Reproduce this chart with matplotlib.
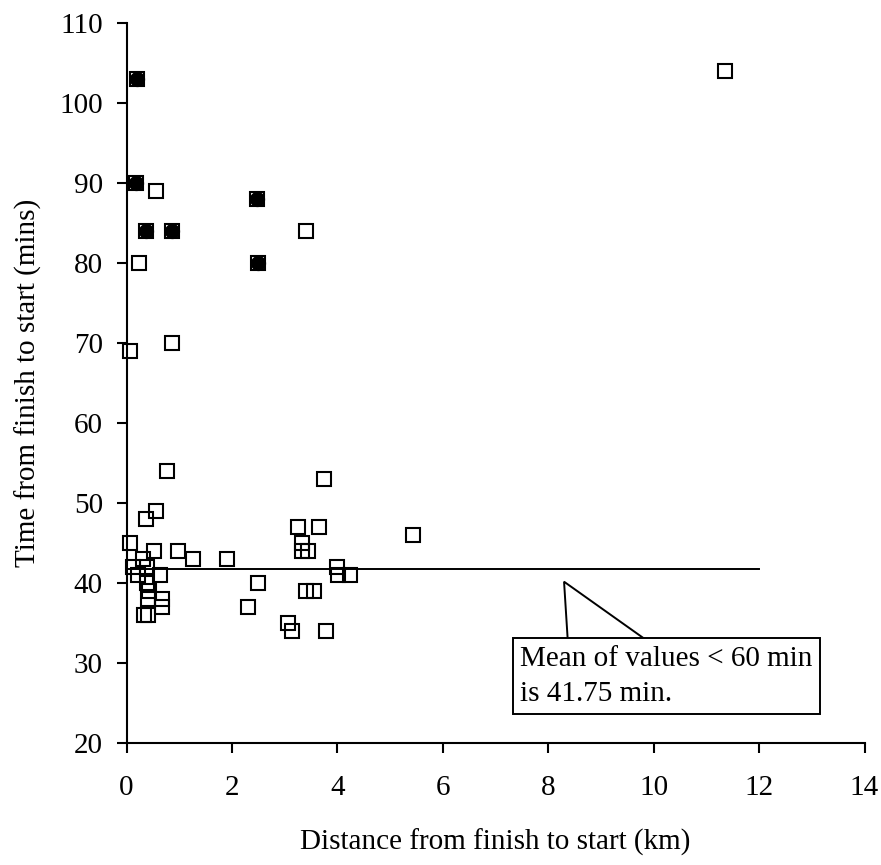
import matplotlib

matplotlib.use("Agg")
import matplotlib.pyplot as plt
from matplotlib.patches import Polygon

# distance (km) and time (min) from finish back to start, one entry per trip
dist_km = [0.19, 0.18, 0.55, 2.47, 0.37, 0.86, 3.40, 0.23, 2.49, 0.86,
           0.07, 0.76, 3.74, 0.55, 0.37, 3.25, 3.66, 5.44, 0.06, 3.33,
           0.53, 0.98, 3.33, 3.45, 1.27, 1.90, 0.32, 0.13, 0.38, 3.99,
           0.21, 0.64, 4.02, 4.24, 0.38, 2.49, 0.42, 3.40, 3.55, 0.40,
           0.67, 0.67, 2.30, 0.34, 0.40, 3.06, 3.13, 3.78, 11.35]
time_min = [103, 90, 89, 88, 84, 84, 84, 80, 80, 70,
            69, 54, 53, 49, 48, 47, 47, 46, 45, 45,
            44, 44, 44, 44, 43, 43, 43, 42, 42, 42,
            41, 41, 41, 41, 40, 40, 39, 39, 39, 38,
            38, 37, 37, 36, 36, 35, 34, 34, 104]

# trips drawn with a solid marker
solid_km = [0.19, 0.18, 2.47, 0.37, 0.86, 2.49]
solid_min = [103, 90, 88, 84, 84, 80]

mean_min = 41.75
mean_span_km = [0, 12]

x_ticks = list(range(0, 15, 2))
y_ticks = list(range(20, 111, 10))

plt.rcParams["font.family"] = ["Liberation Serif", "DejaVu Serif"]

fig = plt.figure(figsize=(8.81, 8.65), dpi=100)
ax = fig.add_axes([0.1436, 0.1407, 0.8377, 0.8324])

ax.plot(mean_span_km, [mean_min, mean_min], color="black", lw=1.4)
ax.plot(dist_km, time_min, ls="none", marker="s", ms=10.5, mfc="none",
        mec="black", mew=1.5, clip_on=False)
ax.plot(solid_km, solid_min, ls="none", marker="o", ms=11, mfc="black",
        mec="black", mew=0, clip_on=False)

# callout: pointer wedge under a boxed note
pointer = Polygon([(8.3, 40.2), (8.37, 32.9), (9.86, 32.9)], closed=True,
                  fc="white", ec="black", lw=1.4, zorder=4)
ax.add_patch(pointer)
ax.text(7.47, 32.2, "Mean of values < 60 min\nis 41.75 min.", ha="left", va="top",
        fontsize=21, linespacing=1.45, zorder=5,
        bbox=dict(boxstyle="square,pad=0.25", fc="white", ec="black", lw=1.4))

ax.set_xlim(0, 14)
ax.set_ylim(20, 110)
ax.set_xticks(x_ticks)
ax.set_yticks(y_ticks)
for side in ("top", "right"):
    ax.spines[side].set_visible(False)
for side in ("left", "bottom"):
    ax.spines[side].set_linewidth(1.5)
ax.tick_params(direction="out", length=7, width=1.5, labelsize=21)
ax.tick_params(axis="x", pad=16)
ax.tick_params(axis="y", pad=10)

ax.set_xlabel("Distance from finish to start (km)", fontsize=21)
ax.set_ylabel("Time from finish to start (mins)", fontsize=21)
ax.xaxis.set_label_coords(0.5, -0.118)
ax.yaxis.set_label_coords(-0.115, 0.5)

fig.savefig("out.png", dpi=100)
